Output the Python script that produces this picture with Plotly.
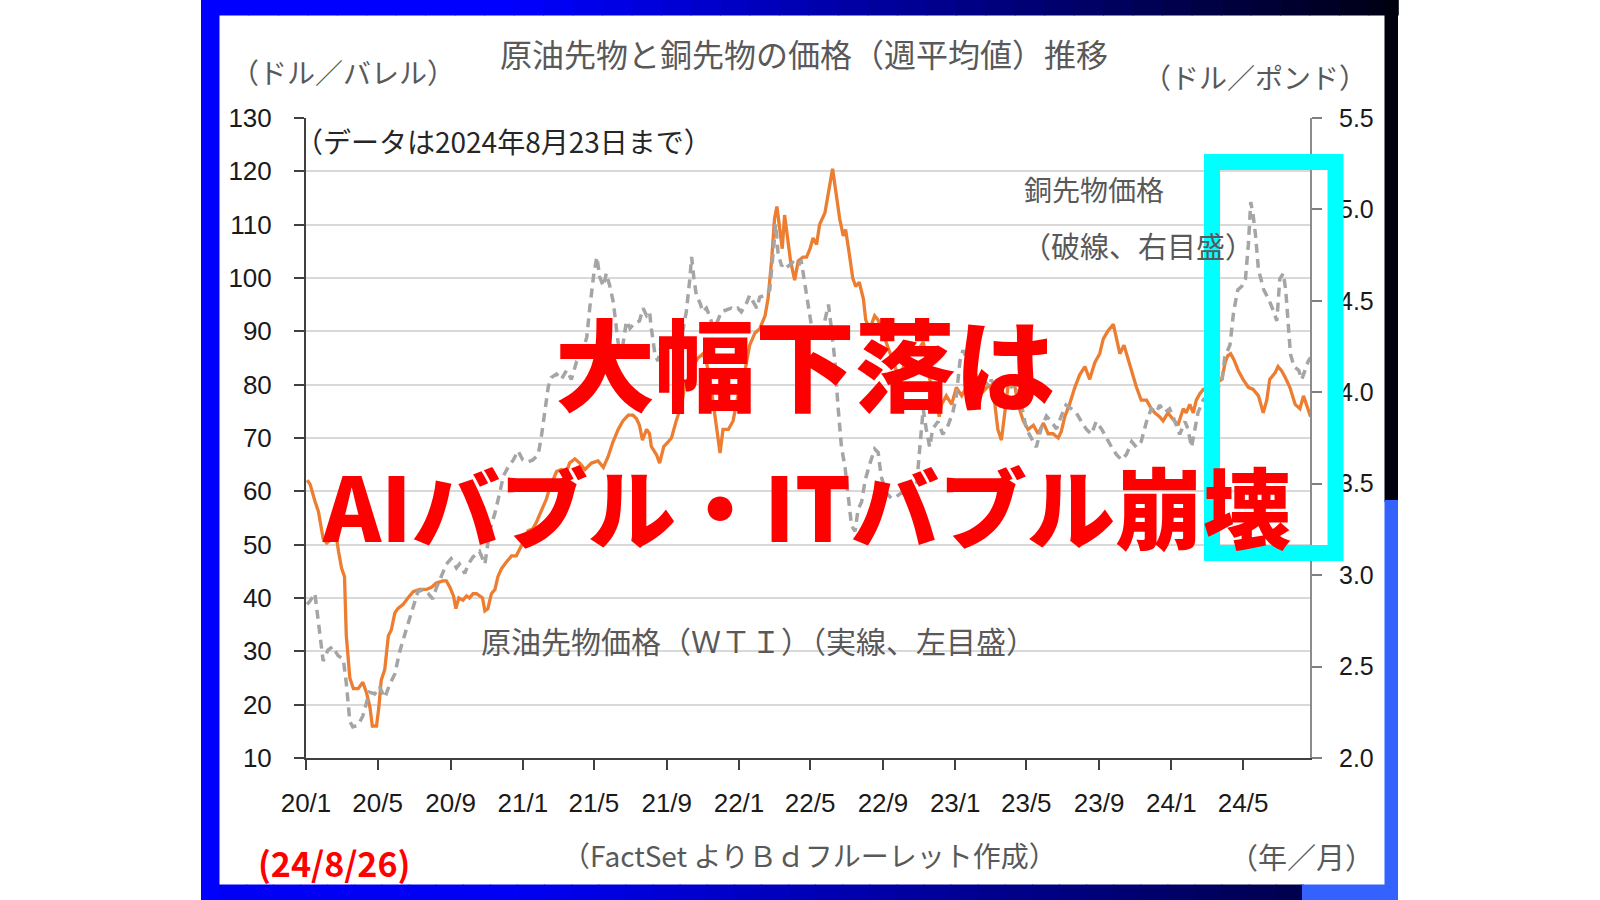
import plotly.graph_objects as go

# ---------------- data ----------------
oil_dates = [
    "2020-01-03", "2020-01-08", "2020-01-16", "2020-01-22", "2020-01-30", "2020-02-05", "2020-02-13",
    "2020-02-19", "2020-02-25", "2020-03-01", "2020-03-06", "2020-03-09", "2020-03-15", "2020-03-21",
    "2020-03-29", "2020-04-06", "2020-04-12", "2020-04-18", "2020-04-22", "2020-04-29", "2020-05-03",
    "2020-05-07", "2020-05-13", "2020-05-19", "2020-05-24", "2020-05-30", "2020-06-04", "2020-06-13",
    "2020-06-21", "2020-06-30", "2020-07-11", "2020-07-22", "2020-07-31", "2020-08-08", "2020-08-19",
    "2020-08-25", "2020-08-31", "2020-09-06", "2020-09-10", "2020-09-15", "2020-09-22", "2020-09-28",
    "2020-10-03", "2020-10-09", "2020-10-15", "2020-10-25", "2020-10-29", "2020-11-03", "2020-11-09",
    "2020-11-15", "2020-11-20", "2020-11-26", "2020-12-04", "2020-12-13", "2020-12-21", "2020-12-27",
    "2021-01-01", "2021-01-10", "2021-01-18", "2021-01-24", "2021-02-01", "2021-02-10", "2021-02-15",
    "2021-02-21", "2021-02-27", "2021-03-07", "2021-03-16", "2021-03-21", "2021-03-30", "2021-04-07",
    "2021-04-16", "2021-04-27", "2021-05-08", "2021-05-17", "2021-05-25", "2021-06-02", "2021-06-11",
    "2021-06-19", "2021-06-28", "2021-07-06", "2021-07-12", "2021-07-17", "2021-07-22", "2021-07-29",
    "2021-08-03", "2021-08-06", "2021-08-15", "2021-08-20", "2021-08-27", "2021-09-03", "2021-09-09",
    "2021-09-17", "2021-09-26", "2021-10-01", "2021-10-07", "2021-10-15", "2021-10-24", "2021-11-01",
    "2021-11-07", "2021-11-13", "2021-11-19", "2021-11-24", "2021-11-30", "2021-12-05", "2021-12-14",
    "2021-12-22", "2021-12-28", "2022-01-02", "2022-01-11", "2022-01-19", "2022-01-28", "2022-02-05",
    "2022-02-14", "2022-02-19", "2022-02-25", "2022-03-02", "2022-03-06", "2022-03-11", "2022-03-15",
    "2022-03-19", "2022-03-24", "2022-03-29", "2022-04-05", "2022-04-11", "2022-04-19", "2022-04-25",
    "2022-05-01", "2022-05-06", "2022-05-12", "2022-05-17", "2022-05-26", "2022-06-01", "2022-06-08",
    "2022-06-14", "2022-06-20", "2022-06-26", "2022-06-30", "2022-07-06", "2022-07-12", "2022-07-17",
    "2022-07-23", "2022-07-30", "2022-08-03", "2022-08-10", "2022-08-18", "2022-08-24", "2022-09-13",
    "2022-09-29", "2022-10-16", "2022-10-28", "2022-11-08", "2022-11-19", "2022-11-30", "2022-12-05",
    "2022-12-09", "2022-12-17", "2022-12-26", "2023-01-03", "2023-01-12", "2023-01-20", "2023-01-31",
    "2023-02-09", "2023-02-17", "2023-02-28", "2023-03-09", "2023-03-14", "2023-03-20", "2023-03-26",
    "2023-03-31", "2023-04-06", "2023-04-12", "2023-04-17", "2023-04-26", "2023-05-04", "2023-05-13",
    "2023-05-21", "2023-05-30", "2023-06-07", "2023-06-15", "2023-06-24", "2023-06-29", "2023-07-05",
    "2023-07-13", "2023-07-22", "2023-07-30", "2023-08-08", "2023-08-16", "2023-08-25", "2023-09-02",
    "2023-09-08", "2023-09-16", "2023-09-25", "2023-09-30", "2023-10-06", "2023-10-13", "2023-10-17",
    "2023-10-26", "2023-11-03", "2023-11-11", "2023-11-20", "2023-11-28", "2023-12-04", "2023-12-12",
    "2023-12-18", "2023-12-26", "2024-01-04", "2024-01-12", "2024-01-21", "2024-01-26", "2024-02-01",
    "2024-02-07", "2024-02-12", "2024-02-18", "2024-02-24", "2024-03-03", "2024-03-14", "2024-03-26",
    "2024-04-01", "2024-04-05", "2024-04-10", "2024-04-16", "2024-04-23", "2024-05-01", "2024-05-10",
    "2024-05-18", "2024-05-27", "2024-06-04", "2024-06-10", "2024-06-15", "2024-06-24", "2024-06-29",
    "2024-07-05", "2024-07-11", "2024-07-19", "2024-07-28", "2024-08-05", "2024-08-11", "2024-08-16",
    "2024-08-23",
]
oil_values = [
    62.1, 61.3, 58.2, 56.2, 51.1, 50.3, 51.0,
    53.0, 48.7, 45.6, 44.0, 33.0, 25.0, 23.0,
    23.0, 24.2, 22.3, 19.5, 16.0, 16.0, 19.5,
    24.6, 26.6, 32.9, 34.0, 37.2, 38.0, 38.8,
    40.0, 41.2, 41.6, 41.6, 42.0, 42.8, 43.2,
    43.2, 42.0, 40.4, 38.0, 40.0, 39.6, 40.4,
    40.0, 40.8, 40.8, 40.0, 37.6, 38.0, 40.8,
    41.6, 44.0, 45.5, 46.7, 47.9, 47.9, 49.1,
    50.3, 52.6, 53.0, 54.2, 56.2, 58.6, 60.5,
    62.1, 63.7, 64.1, 63.7, 65.3, 66.1, 65.3,
    64.1, 65.3, 65.7, 64.5, 66.5, 69.2, 71.6,
    73.2, 74.3, 74.3, 73.6, 72.4, 69.6, 71.6,
    70.8, 68.4, 66.8, 65.3, 68.4, 69.2, 70.0,
    73.2, 76.3, 79.5, 81.0, 83.4, 85.0, 85.8,
    84.2, 81.0, 76.3, 71.6, 67.2, 71.6, 71.6,
    73.2, 76.3, 79.5, 82.6, 87.4, 89.7, 90.5,
    92.9, 96.1, 103.2, 111.1, 113.4, 109.5, 105.5,
    111.8, 107.9, 103.2, 99.6, 103.2, 103.9, 103.9,
    105.5, 107.5, 106.3, 110.0, 112.2, 115.8, 120.5,
    115.8, 111.1, 107.9, 109.1, 104.7, 100.0, 98.4,
    99.2, 96.1, 92.1, 90.5, 92.9, 92.1, 86.0,
    81.0, 87.0, 86.0, 88.0, 81.0, 77.0, 74.0,
    76.3, 77.9, 76.3, 79.5, 77.9, 79.5, 78.7,
    80.3, 78.7, 80.0, 76.3, 71.6, 69.6, 74.7,
    79.5, 81.0, 79.5, 76.3, 73.2, 71.6, 72.4,
    70.8, 72.8, 70.8, 70.8, 70.0, 71.2, 74.0,
    76.3, 79.5, 81.8, 83.4, 81.0, 84.2, 85.8,
    88.6, 90.1, 91.3, 89.0, 85.8, 87.4, 85.8,
    82.6, 79.5, 77.1, 77.1, 75.5, 74.7, 74.0,
    73.2, 74.7, 73.6, 72.4, 75.5, 74.7, 76.3,
    74.7, 77.1, 78.3, 79.1, 79.5, 80.0, 81.0,
    84.2, 85.4, 85.8, 84.6, 82.6, 81.0, 79.5,
    79.1, 77.9, 74.7, 77.1, 81.0, 82.2, 83.4,
    82.6, 81.4, 79.5, 76.3, 75.5, 77.9, 76.3,
    74.0,
]

copper_dates = [
    "2020-01-03", "2020-01-08", "2020-01-16", "2020-01-21", "2020-01-30", "2020-02-07", "2020-02-15",
    "2020-02-24", "2020-03-04", "2020-03-09", "2020-03-15", "2020-03-20", "2020-03-29", "2020-04-06",
    "2020-04-12", "2020-04-17", "2020-04-26", "2020-05-04", "2020-05-13", "2020-05-21", "2020-05-30",
    "2020-06-07", "2020-06-18", "2020-06-30", "2020-07-08", "2020-07-16", "2020-07-25", "2020-08-02",
    "2020-08-08", "2020-08-16", "2020-08-25", "2020-09-02", "2020-09-11", "2020-09-16", "2020-09-25",
    "2020-10-01", "2020-10-09", "2020-10-20", "2020-10-29", "2020-11-06", "2020-11-15", "2020-11-23",
    "2020-11-29", "2020-12-07", "2020-12-16", "2020-12-24", "2021-01-01", "2021-01-10", "2021-01-18",
    "2021-01-27", "2021-02-01", "2021-02-07", "2021-02-13", "2021-02-18", "2021-02-27", "2021-03-07",
    "2021-03-16", "2021-03-24", "2021-04-02", "2021-04-10", "2021-04-19", "2021-04-24", "2021-05-01",
    "2021-05-06", "2021-05-11", "2021-05-17", "2021-05-22", "2021-05-28", "2021-06-03", "2021-06-08",
    "2021-06-14", "2021-06-19", "2021-06-25", "2021-07-01", "2021-07-09", "2021-07-17", "2021-07-23",
    "2021-07-29", "2021-08-03", "2021-08-06", "2021-08-12", "2021-08-17", "2021-08-23", "2021-08-29",
    "2021-09-03", "2021-09-12", "2021-09-20", "2021-09-26", "2021-10-04", "2021-10-10", "2021-10-13",
    "2021-10-17", "2021-10-21", "2021-10-27", "2021-11-01", "2021-11-07", "2021-11-12", "2021-11-19",
    "2021-11-26", "2021-12-02", "2021-12-11", "2021-12-19", "2021-12-25", "2021-12-30", "2022-01-05",
    "2022-01-14", "2022-01-19", "2022-01-25", "2022-01-31", "2022-02-05", "2022-02-14", "2022-02-22",
    "2022-02-28", "2022-03-04", "2022-03-08", "2022-03-14", "2022-03-20", "2022-03-25", "2022-04-02",
    "2022-04-11", "2022-04-16", "2022-04-22", "2022-04-28", "2022-05-04", "2022-05-09", "2022-05-18",
    "2022-05-23", "2022-06-01", "2022-06-06", "2022-06-12", "2022-06-17", "2022-06-23", "2022-06-29",
    "2022-07-04", "2022-07-10", "2022-07-16", "2022-07-21", "2022-07-27", "2022-08-02", "2022-08-10",
    "2022-08-18", "2022-08-24", "2022-08-29", "2022-09-07", "2022-09-15", "2022-09-24", "2022-10-02",
    "2022-10-11", "2022-10-19", "2022-10-28", "2022-11-02", "2022-11-08", "2022-11-13", "2022-11-19",
    "2022-11-24", "2022-12-03", "2022-12-11", "2022-12-20", "2022-12-28", "2023-01-03", "2023-01-09",
    "2023-01-14", "2023-01-23", "2023-01-31", "2023-02-09", "2023-02-17", "2023-02-28", "2023-03-03",
    "2023-03-12", "2023-03-20", "2023-03-29", "2023-04-06", "2023-04-14", "2023-04-23", "2023-05-01",
    "2023-05-10", "2023-05-18", "2023-05-26", "2023-06-04", "2023-06-12", "2023-06-21", "2023-06-29",
    "2023-07-07", "2023-07-16", "2023-07-24", "2023-08-02", "2023-08-10", "2023-08-19", "2023-08-27",
    "2023-09-05", "2023-09-13", "2023-09-22", "2023-09-30", "2023-10-09", "2023-10-17", "2023-10-26",
    "2023-11-03", "2023-11-11", "2023-11-20", "2023-11-28", "2023-12-07", "2023-12-12", "2023-12-21",
    "2023-12-29", "2024-01-07", "2024-01-15", "2024-01-24", "2024-01-29", "2024-02-04", "2024-02-10",
    "2024-02-15", "2024-02-24", "2024-03-12", "2024-03-26", "2024-03-31", "2024-04-09", "2024-04-15",
    "2024-04-22", "2024-04-29", "2024-05-05", "2024-05-10", "2024-05-14", "2024-05-18", "2024-05-22",
    "2024-05-27", "2024-06-05", "2024-06-13", "2024-06-22", "2024-06-27", "2024-07-02", "2024-07-08",
    "2024-07-12", "2024-07-16", "2024-07-20", "2024-07-26", "2024-08-03", "2024-08-08", "2024-08-14",
    "2024-08-19", "2024-08-23",
]
copper_values = [
    2.84, 2.86, 2.90, 2.78, 2.53, 2.59, 2.61,
    2.56, 2.54, 2.41, 2.20, 2.17, 2.18, 2.23,
    2.31, 2.36, 2.35, 2.39, 2.33, 2.40, 2.46,
    2.58, 2.70, 2.83, 2.91, 2.92, 2.90, 2.87,
    2.93, 2.99, 3.06, 3.09, 3.04, 3.06, 3.01,
    3.06, 3.10, 3.13, 3.06, 3.24, 3.34, 3.45,
    3.54, 3.59, 3.63, 3.68, 3.63, 3.62, 3.63,
    3.66, 3.75, 3.89, 4.03, 4.08, 4.10, 4.07,
    4.12, 4.07, 4.17, 4.21, 4.30, 4.46, 4.65,
    4.74, 4.63, 4.58, 4.65, 4.58, 4.49, 4.35,
    4.19, 4.26, 4.39, 4.35, 4.38, 4.39, 4.46,
    4.42, 4.44, 4.35, 4.21, 4.17, 4.26, 4.30,
    4.26, 4.27, 4.26, 4.30, 4.44, 4.62, 4.74,
    4.62, 4.53, 4.49, 4.44, 4.46, 4.42, 4.35,
    4.39, 4.44, 4.45, 4.46, 4.45, 4.46, 4.44,
    4.49, 4.53, 4.49, 4.46, 4.52, 4.53, 4.56,
    4.79, 4.92, 4.76, 4.69, 4.71, 4.69, 4.71,
    4.69, 4.72, 4.60, 4.49, 4.35, 4.35, 4.30,
    4.35, 4.48, 4.35, 4.17, 3.93, 3.70, 3.59,
    3.43, 3.27, 3.24, 3.36, 3.40, 3.52, 3.61,
    3.69, 3.67, 3.54, 3.45, 3.42, 3.43, 3.45,
    3.44, 3.43, 3.50, 3.70, 3.91, 3.80, 3.70,
    3.80, 3.84, 3.77, 3.82, 3.89, 3.98, 4.17,
    4.23, 4.17, 4.12, 4.05, 4.07, 4.03, 4.07,
    3.98, 4.03, 4.07, 4.03, 4.05, 3.93, 3.80,
    3.75, 3.70, 3.80, 3.87, 3.84, 3.80, 3.87,
    3.93, 3.91, 3.89, 3.84, 3.80, 3.77, 3.84,
    3.80, 3.75, 3.70, 3.66, 3.63, 3.66, 3.73,
    3.70, 3.73, 3.84, 3.91, 3.89, 3.93, 3.89,
    3.91, 3.84, 3.77, 3.84, 3.80, 3.70, 3.80,
    3.89, 3.96, 4.00, 4.05, 4.19, 4.26, 4.44,
    4.56, 4.58, 4.62, 4.81, 5.04, 4.97, 4.86,
    4.67, 4.56, 4.51, 4.44, 4.39, 4.62, 4.65,
    4.56, 4.35, 4.21, 4.14, 4.12, 4.07, 4.12,
    4.17, 4.19,
]

x_tick_dates = ["2020-01-01", "2020-05-01", "2020-09-01", "2021-01-01", "2021-05-01", "2021-09-01",
                "2022-01-01", "2022-05-01", "2022-09-01", "2023-01-01", "2023-05-01", "2023-09-01",
                "2024-01-01", "2024-05-01"]
x_tick_labels = ["20/1", "20/5", "20/9", "21/1", "21/5", "21/9", "22/1", "22/5", "22/9",
                 "23/1", "23/5", "23/9", "24/1", "24/5"]
left_ticks = [10, 20, 30, 40, 50, 60, 70, 80, 90, 100, 110, 120, 130]
right_ticks = [2.0, 2.5, 3.0, 3.5, 4.0, 4.5, 5.0, 5.5]

# ---------------- layout geometry (pixels) ----------------
W, H = 1600, 900
L, R, T, B = 306, 1310, 118, 758


def px(x):
    return (x - L) / (R - L)


def py(y):
    return (B - y) / (B - T)


JP = "Noto Sans CJK JP, Noto Sans, sans-serif"
NUM = "Liberation Sans, Arial, sans-serif"
GRAY_TXT = "#595959"

fig = go.Figure()
fig.add_trace(go.Scatter(
    x=copper_dates, y=copper_values, yaxis="y2", mode="lines",
    line=dict(color="#a5a5a5", width=3.5, dash="9px,6px"), name="銅先物価格",
    hoverinfo="skip"))
fig.add_trace(go.Scatter(
    x=oil_dates, y=oil_values, mode="lines",
    line=dict(color="#ed7d31", width=3.3), name="原油先物価格（ＷＴＩ）",
    hoverinfo="skip"))

shapes = []


def rect(x0, y0, x1, y1, color, layer="below"):
    shapes.append(dict(type="rect", xref="paper", yref="paper",
                       x0=px(x0), x1=px(x1), y0=py(y1), y1=py(y0),
                       fillcolor=color, line=dict(width=0), layer=layer))


def lerp(c1, c2, t):
    a = [int(c1[i:i + 2], 16) for i in (1, 3, 5)]
    b = [int(c2[i:i + 2], 16) for i in (1, 3, 5)]
    return "#%02x%02x%02x" % tuple(round(a[k] + (b[k] - a[k]) * t) for k in range(3))


# left band
rect(201, 0, 219.5, 900, "#0000ff")
# top band gradient
n = 40
x_start, x_end = 219, 1398
for i in range(n):
    xa = x_start + (x_end - x_start) * i / n
    xb = x_start + (x_end - x_start) * (i + 1) / n + 0.8
    t = max(0.0, (xa - 500) / (x_end - 500))
    rect(xa, 0, xb, 15.5, lerp("#0000ff", "#00000e", t))
# right band: dark upper, light blue lower
rect(1384.5, 0, 1398, 502, "#00000e")
rect(1384.5, 500, 1398, 900, "#3462ff")
# bottom band gradient
for i in range(n):
    xa = 219 + (1303 - 219) * i / n
    xb = 219 + (1303 - 219) * (i + 1) / n + 0.8
    t = max(0.0, (xa - 500) / (1303 - 500))
    rect(xa, 884.5, xb, 900, lerp("#0000f5", "#00004a", t))
rect(1302, 884.5, 1398, 900, "#3462ff")

# cyan highlight box
shapes.append(dict(type="rect", xref="paper", yref="paper",
                   x0=px(1212), x1=px(1335.5), y0=py(553), y1=py(162),
                   line=dict(color="#00ffff", width=16), fillcolor="rgba(0,0,0,0)",
                   layer="above"))

annotations = []


def text(s, x, y, size, color=GRAY_TXT, anchor="left", family=JP, weight=None):
    f = dict(family=family, size=size, color=color)
    if weight:
        f["weight"] = weight
    annotations.append(dict(text=s, xref="paper", yref="paper", x=px(x), y=py(y),
                            xanchor=anchor, yanchor="middle", showarrow=False, font=f))


text("原油先物と銅先物の価格（週平均値）推移", 804, 53, 32, anchor="center")
text("（ドル／バレル）", 229, 72, 28)
text("（ドル／ポンド）", 1141, 77, 28)
text("（データは2024年8月23日まで）", 293, 141, 28, color="#262626")
text("銅先物価格", 1022, 189, 28)
text("（破線、右目盛）", 1020, 245, 29)
text("原油先物価格（ＷＴＩ）（実線、左目盛）", 479, 640, 30)
text("（FactSet よりＢｄフルーレット作成）", 560, 855, 28)
text("（年／月）", 1227, 856, 29)
text("(24/8/26)", 256, 862, 34, color="#ff0000", weight=700)
text("大幅下落は", 805, 360, 100, color="#ff0000", anchor="center", weight=900)
text("AIバブル・ITバブル崩壊", 806, 503, 88, color="#ff0000", anchor="center", weight=900)

fig.update_layout(
    width=W, height=H,
    margin=dict(l=L, r=W - R, t=T, b=H - B, pad=0),
    paper_bgcolor="white", plot_bgcolor="white",
    showlegend=False,
    shapes=shapes, annotations=annotations,
    xaxis=dict(type="date", range=["2020-01-01", "2024-08-22"],
               tickvals=x_tick_dates, ticktext=x_tick_labels,
               tickfont=dict(family=NUM, size=26, color="#1a1a1a"),
               ticks="outside", ticklen=10, tickwidth=2, tickcolor="#404040",
               showline=True, linecolor="#404040", linewidth=2,
               showgrid=False, zeroline=False, ticklabelstandoff=11),
    yaxis=dict(range=[10, 130], tickvals=left_ticks,
               tickfont=dict(family=NUM, size=26, color="#1a1a1a"),
               ticks="outside", ticklen=10, tickwidth=2, tickcolor="#404040",
               showline=True, linecolor="#404040", linewidth=2,
               showgrid=True, gridcolor="#d9d9d9", gridwidth=2,
               zeroline=False, ticklabelstandoff=17),
    yaxis2=dict(range=[2.0, 5.5], tickvals=right_ticks, tickformat=".1f",
                overlaying="y", side="right",
                tickfont=dict(family=NUM, size=25, color="#1a1a1a"),
                ticks="outside", ticklen=10, tickwidth=2, tickcolor="#7f7f7f",
                showline=True, linecolor="#8c8c8c", linewidth=2,
                showgrid=False, zeroline=False, ticklabelstandoff=12),
)

fig.write_html(
    "out.html",
    config={"displayModeBar": False},
    post_script="document.body.style.margin='0';document.body.style.overflow='hidden';",
)
